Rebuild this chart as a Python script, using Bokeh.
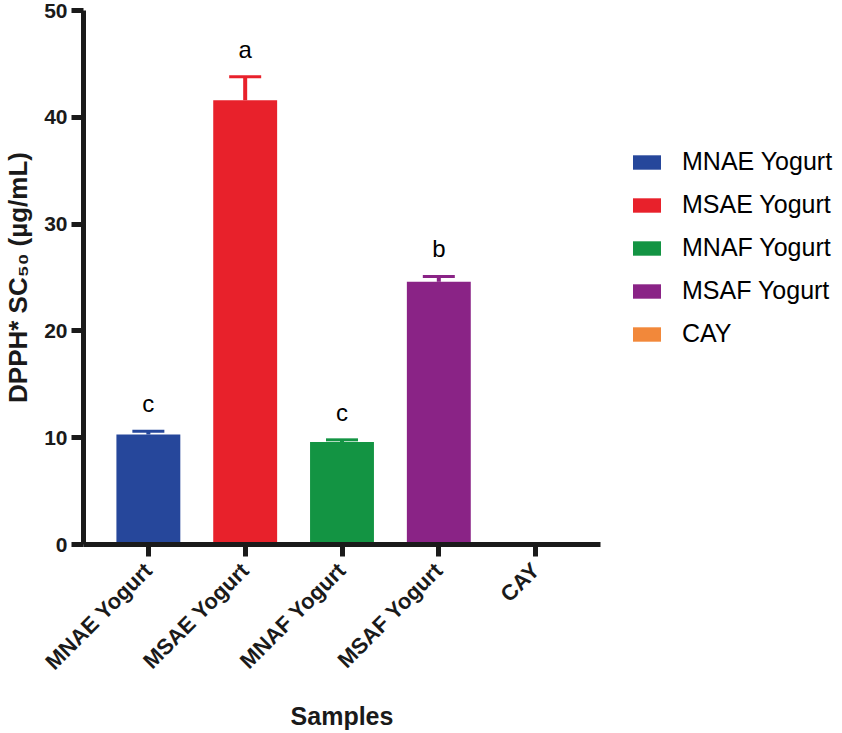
import math
from bokeh.plotting import figure
from bokeh.layouts import row
from bokeh.models import (ColumnDataSource, Whisker, TeeHead, Legend, LegendItem,
                          FactorRange, FixedTicker)
from bokeh.embed import file_html
from bokeh.resources import INLINE
from bokeh.core.properties import value, field

samples = ["MNAE Yogurt", "MSAE Yogurt", "MNAF Yogurt", "MSAF Yogurt", "CAY"]
means = [10.3, 41.6, 9.6, 24.6, 0.0]
errors = [0.3, 2.2, 0.2, 0.5, 0.0]
letters = ["c", "a", "c", "b", ""]
colors = ["#26479B", "#E8212B", "#139443", "#8A2386", "#F2883A"]
y_ticks = [0, 10, 20, 30, 40, 50]

upper = [m + e for m, e in zip(means, errors)]
src = ColumnDataSource(dict(x=samples, top=means, upper=upper, color=colors, letter=letters))
err_src = ColumnDataSource(dict(x=samples[:4], top=means[:4], upper=upper[:4], color=colors[:4]))

FONT = "Liberation Sans"
INK = "#1a1a1a"

# ---- main chart ----
p = figure(x_range=FactorRange(*samples, range_padding=0.17, range_padding_units="absolute"),
           y_range=(0, 50), width=608, height=733, output_backend="svg",
           toolbar_location=None, min_border_left=82, min_border_right=8,
           min_border_top=10, min_border_bottom=186)

p.outline_line_color = None
p.xgrid.visible = False
p.ygrid.visible = False

bars = p.vbar(x="x", top="top", width=0.66, source=src, fill_color="color", line_color=None)

wh = Whisker(base="x", lower="top", upper="upper", source=err_src, dimension="height",
             line_color=field("color"), line_width=4,
             upper_head=TeeHead(size=32, line_color=field("color"), line_width=3),
             lower_head=None)
p.add_layout(wh)

p.text(x="x", y="upper", text="letter", source=src, text_align="center",
       text_baseline="bottom", y_offset=-14, text_font=value(FONT),
       text_font_size="24px", text_color="black")

for ax in (p.xaxis[0], p.yaxis[0]):
    ax.axis_line_width = 5
    ax.axis_line_color = INK
    ax.major_tick_line_width = 5
    ax.major_tick_line_color = INK
    ax.major_tick_out = 12
    ax.major_tick_in = 0
    ax.minor_tick_line_color = None
    ax.major_label_text_font = FONT
    ax.major_label_text_font_style = "bold"
    ax.major_label_text_color = INK
    ax.axis_label_text_font = FONT
    ax.axis_label_text_font_style = "bold"
    ax.axis_label_text_font_size = "25px"
    ax.axis_label_text_color = INK

p.yaxis.ticker = FixedTicker(ticks=y_ticks)
p.yaxis.major_label_text_font_size = "21px"
p.yaxis.major_label_standoff = 4
p.yaxis.axis_label = "DPPH* SC\u2085\u2080 (\u00b5g/mL)"
p.yaxis.axis_label_text_font_size = "26px"
p.yaxis.axis_label_standoff = 8

p.xaxis.major_label_orientation = math.pi / 4
p.xaxis.major_label_text_font_size = "22px"
p.xaxis.major_label_standoff = 10
p.xaxis.axis_label = "Samples"
p.xaxis.axis_label_standoff = 16

# ---- legend panel ----
p2 = figure(x_range=FactorRange(*samples), y_range=(0, 50), width=234, height=733,
            output_backend="svg", toolbar_location=None,
            x_axis_location=None, y_axis_location=None,
            min_border_left=0, min_border_right=0, min_border_top=0, min_border_bottom=0)
p2.outline_line_color = None
p2.grid.visible = False
lbars = p2.vbar(x="x", top="top", width=0.66, source=src, fill_color="color", line_color=None)
lbars.visible = False

items = [LegendItem(label=s, renderers=[lbars], index=i) for i, s in enumerate(samples)]
legend = Legend(items=items, location=(21, 196), glyph_width=35, glyph_height=18,
                label_text_font=FONT, label_text_font_size="25px", label_height=28,
                label_text_color="black",
                label_standoff=18, spacing=14, padding=10, margin=0,
                border_line_color=None, background_fill_alpha=0)
p2.add_layout(legend)

layout = row(p, p2)
open("out.html", "w").write(file_html(layout, INLINE))
